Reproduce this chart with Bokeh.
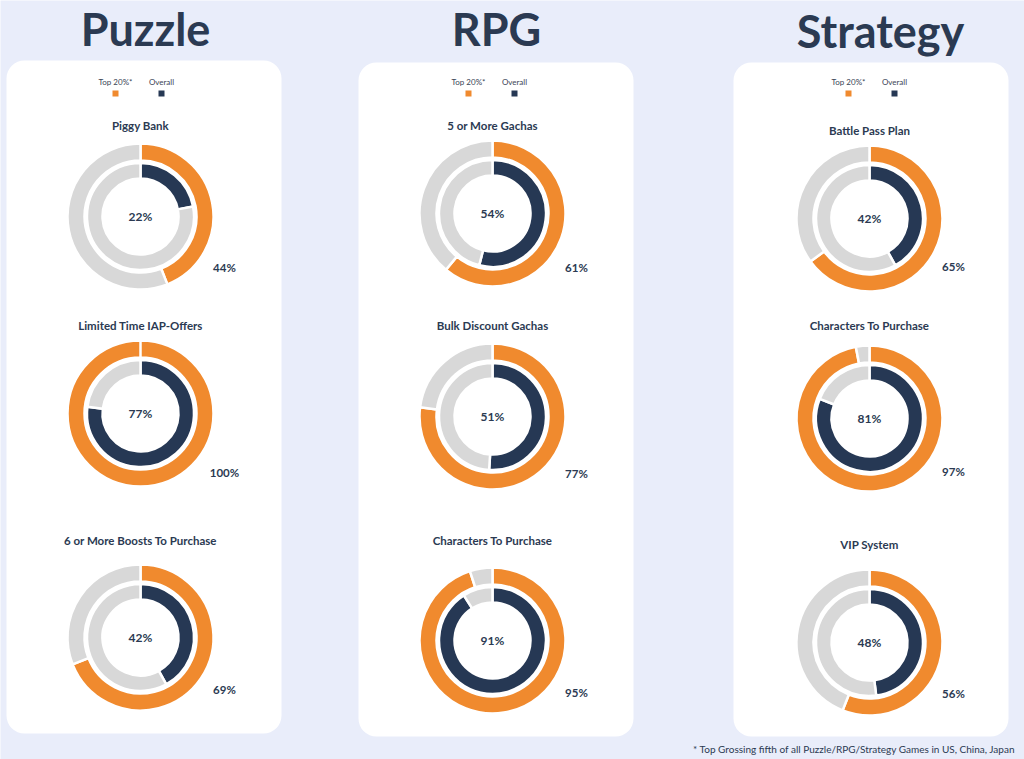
import math
from bokeh.plotting import figure
from bokeh.models import Range1d, BoxAnnotation, ColumnDataSource
from bokeh.core.properties import value
from bokeh.embed import file_html
from bokeh.resources import INLINE

# ---------------- data ----------------
genres = ["Puzzle", "RPG", "Strategy"]
features_puzzle = ["Piggy Bank", "Limited Time IAP-Offers", "6 or More Boosts To Purchase"]
features_rpg = ["5 or More Gachas", "Bulk Discount Gachas", "Characters To Purchase"]
features_strategy = ["Battle Pass Plan", "Characters To Purchase", "VIP System"]
top20_puzzle = [44, 100, 69]
top20_rpg = [61, 77, 95]
top20_strategy = [65, 97, 56]
overall_puzzle = [22, 77, 42]
overall_rpg = [54, 51, 91]
overall_strategy = [42, 81, 48]
legend_labels = ["Top 20%*", "Overall"]
footnote = "* Top Grossing fifth of all Puzzle/RPG/Strategy Games in US, China, Japan"

features = [features_puzzle, features_rpg, features_strategy]
top20 = [top20_puzzle, top20_rpg, top20_strategy]
overall = [overall_puzzle, overall_rpg, overall_strategy]

# ---------------- style / layout ----------------
BG = "#e9edfa"
ORANGE = "#f08a2e"
NAVY = "#263854"
GRAY = "#d8d8d8"
TEXT = "#2b3a52"
FONT = "Lato"

W, H = 1024, 759


def Y(ref_y):
    return H - ref_y


p = figure(width=W, height=H, output_backend="svg", toolbar_location=None,
           x_range=Range1d(0, W), y_range=Range1d(0, H),
           min_border=0)
p.axis.visible = False
p.grid.visible = False
p.outline_line_color = None
p.background_fill_color = BG
p.border_fill_color = BG

# panels
panel_x = [(6, 281, 60, 733), (358, 633, 62, 736), (733, 1008, 62, 736)]
for (l, r, t, b) in panel_x:
    p.add_layout(BoxAnnotation(left=l, right=r, top=Y(t), bottom=Y(b),
                               fill_color="white", fill_alpha=1.0, line_color=None,
                               border_radius=18, level="underlay"))

# column layout
col_cx = [140, 492, 869]
title_xy = [(145, 28), (496, 28), (880, 30)]
donut_cy = [[216, 413, 637], [213, 416, 640], [218, 418, 642]]
dtitle_y = [[125, 325, 540], [125, 325, 540], [130, 325, 544]]
corner_y = [[267, 472, 689], [267, 473, 692], [266, 471, 693]]
legend_x = [(115, 161), (468, 514), (848, 894)]

R_OUT = (56, 73)
R_IN = (38, 53.5)
TOP = math.pi / 2

for gi, g in enumerate(genres):
    # genre title
    p.text(x=[title_xy[gi][0]], y=[Y(title_xy[gi][1])], text=[g],
           text_font=value(FONT), text_font_style="bold", text_font_size="45px",
           text_color=TEXT, text_align="center", text_baseline="middle")
    # legend
    lx = legend_x[gi]
    p.text(x=list(lx), y=[Y(81)] * 2, text=legend_labels,
           text_font=value(FONT), text_font_size="8px", text_color="#3a4456",
           text_align="center", text_baseline="middle")
    p.rect(x=list(lx), y=[Y(93)] * 2, width=6, height=6,
           fill_color=[ORANGE, NAVY], line_color=None)

    cx = col_cx[gi]
    for k in range(3):
        cy = Y(donut_cy[gi][k])
        t = top20[gi][k] / 100.0
        o = overall[gi][k] / 100.0
        full = dict(
            x=[cx] * 4, y=[cy] * 4,
            r0=[R_OUT[0], R_OUT[0], R_IN[0], R_IN[0]],
            r1=[R_OUT[1], R_OUT[1], R_IN[1], R_IN[1]],
            start=[TOP - t * 2 * math.pi, TOP, TOP - o * 2 * math.pi, TOP],
            end=[TOP, TOP + (1 - t) * 2 * math.pi, TOP, TOP + (1 - o) * 2 * math.pi],
            color=[ORANGE, GRAY, NAVY, GRAY],
            frac=[t, 1 - t, o, 1 - o],
        )
        keep = [i for i in range(4) if full["frac"][i] > 0]
        data = {key: [full[key][i] for i in keep] for key in full}
        p.annular_wedge(x="x", y="y", inner_radius="r0", outer_radius="r1",
                        start_angle="start", end_angle="end",
                        fill_color="color", line_color="white", line_width=2.5,
                        source=ColumnDataSource(data))
        # donut title
        p.text(x=[cx], y=[Y(dtitle_y[gi][k])], text=[features[gi][k]],
               text_font=value(FONT), text_font_style="bold", text_font_size="11.5px",
               text_color=TEXT, text_align="center", text_baseline="middle")
        # center label (overall)
        p.text(x=[cx], y=[cy], text=[f"{overall[gi][k]}%"],
               text_font=value(FONT), text_font_style="bold", text_font_size="12px",
               text_color=TEXT, text_align="center", text_baseline="middle")
        # corner label (top 20%)
        p.text(x=[cx + 84], y=[Y(corner_y[gi][k])], text=[f"{top20[gi][k]}%"],
               text_font=value(FONT), text_font_style="bold", text_font_size="11.5px",
               text_color=TEXT, text_align="center", text_baseline="middle")

# footnote
p.text(x=[1015], y=[Y(748)], text=[footnote], text_font=value(FONT),
       text_font_size="10px", text_color=TEXT, text_align="right", text_baseline="middle")

open("out.html", "w").write(file_html(p, INLINE))
